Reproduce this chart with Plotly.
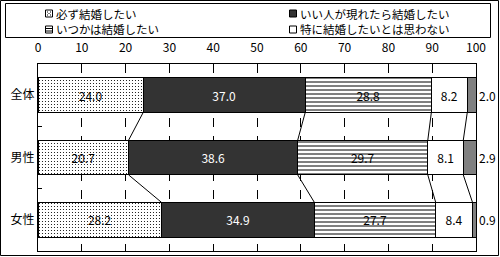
import plotly.graph_objects as go

categories = ["全体", "男性", "女性"]
series_names = ["必ず結婚したい", "いい人が現れたら結婚したい", "いつかは結婚したい",
                "特に結婚したいとは思わない", "無回答"]
s1 = [24.0, 20.7, 28.2]
s2 = [37.0, 38.6, 34.9]
s3 = [28.8, 29.7, 27.7]
s4 = [8.2, 8.1, 8.4]
s5 = [2.0, 2.9, 0.9]
x_ticks = [0, 10, 20, 30, 40, 50, 60, 70, 80, 90, 100]

FONT = "Noto Sans CJK JP"
W, H = 500, 257
L, R, T, B = 38, 24, 64, 6
PW, PH = W - L - R, H - T - B
BAR_W = 0.56


def px(xp):
    return (xp - L) / PW


def py(yp):
    return (H - B - yp) / PH


series = [s1, s2, s3, s4, s5]
fills = [
    dict(color="white", pattern=dict(shape=".", fgcolor="black", bgcolor="white", size=3, solidity=0.12, fillmode="replace")),
    dict(color="#333333"),
    dict(color="white", pattern=dict(shape="-", fgcolor="black", bgcolor="white", size=4, solidity=0.25, fillmode="replace")),
    dict(color="white"),
    dict(color="#808080"),
]
text_colors = ["black", "white", "black", "black", "black"]

fig = go.Figure()
for i, (vals, name) in enumerate(zip(series, series_names)):
    m = dict(fills[i])
    m["line"] = dict(color="black", width=1)
    fig.add_trace(go.Bar(
        y=categories, x=vals, name=name, orientation="h", marker=m,
        width=BAR_W, text=[f"{v:.1f}" for v in vals] if i < 4 else None,
        textposition="inside" if i < 4 else "none",
        insidetextanchor="middle", textangle=0,
        textfont=dict(family=FONT, size=12, color=text_colors[i]),
        showlegend=False,
    ))

shapes = []
annotations = []
# series connector lines between bars
for c in range(len(categories) - 1):
    cum_a, cum_b = 0.0, 0.0
    for k in range(4):
        cum_a += series[k][c]
        cum_b += series[k][c + 1]
        shapes.append(dict(type="line", xref="x", yref="y",
                           x0=cum_a, x1=cum_b, y0=c + BAR_W / 2, y1=c + 1 - BAR_W / 2,
                           line=dict(color="black", width=1)))

# labels for the last (gray) series, right of the bar
for c in range(len(categories)):
    total = min(sum(s[c] for s in series), 100)
    annotations.append(dict(x=total, y=c, xref="x", yref="y", text=f"{s5[c]:.1f}",
                            showarrow=False, xanchor="left", xshift=1,
                            font=dict(family=FONT, size=12, color="black")))

# ---- legend (drawn in the top margin) ----
def prect(x0, y0, x1, y1, fill="rgba(0,0,0,0)", line="black"):
    return dict(type="rect", xref="paper", yref="paper",
                x0=px(x0), x1=px(x1), y0=py(y1), y1=py(y0),
                line=dict(color=line, width=1 if line else 0), fillcolor=fill, layer="above")

shapes.append(prect(5.5, 3.5, 490.5, 37.5, fill="white"))
legend_items = [
    (series_names[0], 45.5, 13.5, "dots"),
    (series_names[1], 289.5, 13.5, "dark"),
    (series_names[2], 45.5, 29.5, "lines"),
    (series_names[3], 289.5, 29.5, "empty"),
]
for name, ix, cy, kind in legend_items:
    y0, y1 = cy - 3.5, cy + 3.5
    fill = "#333333" if kind == "dark" else "white"
    shapes.append(prect(ix, y0, ix + 7, y1, fill=fill))
    if kind == "lines":
        for ly in (cy - 1, cy + 1.5):
            shapes.append(dict(type="line", xref="paper", yref="paper",
                               x0=px(ix), x1=px(ix + 7), y0=py(ly), y1=py(ly),
                               line=dict(color="black", width=1), layer="above"))
    if kind == "dots":
        for dx, dy in ((2, 2), (5, 2), (3.5, 3.5), (2, 5), (5, 5)):
            shapes.append(dict(type="rect", xref="paper", yref="paper",
                               x0=px(ix + dx - 0.5), x1=px(ix + dx + 0.5),
                               y0=py(y0 + dy + 0.5), y1=py(y0 + dy - 0.5),
                               line=dict(width=0), fillcolor="black", layer="above"))
    annotations.append(dict(x=px(ix + 9), y=py(cy), xref="paper", yref="paper",
                            text=name, showarrow=False, xanchor="left", yanchor="middle",
                            borderpad=0,
                            font=dict(family=FONT, size=11.5, color="black")))

# outer chart border
shapes.append(dict(
    type="rect", xref="paper", yref="paper",
    x0=px(0.5), x1=px(W - 1.5), y0=py(H - 1.5), y1=py(0.5),
    line=dict(color="black", width=1), fillcolor="rgba(0,0,0,0)", layer="above",
))

fig.update_layout(
    width=W, height=H, barmode="stack",
    margin=dict(l=L, r=R, t=T, b=B),
    paper_bgcolor="white", plot_bgcolor="white",
    font=dict(family=FONT, size=12, color="black"),
    showlegend=False,
    xaxis=dict(
        range=[0, 100], side="top", tickvals=x_ticks, ticks="",
        showgrid=True, gridcolor="black", griddash="dash", gridwidth=1,
        zeroline=False, showline=True, linecolor="black", linewidth=1, mirror=True,
        tickfont=dict(family=FONT, size=12), ticklabelstandoff=6,
    ),
    yaxis=dict(
        autorange="reversed", ticks="inside", tickson="boundaries", ticklen=4,
        tickcolor="black", showline=True, linecolor="black", linewidth=1, mirror=True,
        showgrid=False, tickfont=dict(family=FONT, size=12),
    ),
    shapes=shapes, annotations=annotations,
)
fig.write_html("out.html")
